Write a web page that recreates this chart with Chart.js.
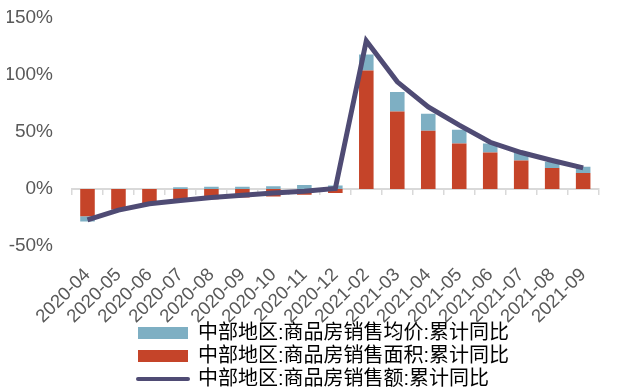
<!DOCTYPE html>
<html>
<head>
<meta charset="utf-8">
<script src="https://cdn.jsdelivr.net/npm/chart.js@4"></script>
<style>
  html, body { margin: 0; padding: 0; background: #fff; }
  #wrap { width: 617px; height: 392px; }
</style>
</head>
<body>
<div id="wrap"><canvas id="chart"></canvas></div>
<script>
const months = ['2020-04', '2020-05', '2020-06', '2020-07', '2020-08', '2020-09', '2020-10', '2020-11', '2020-12',
    '2021-02', '2021-03', '2021-04', '2021-05', '2021-06', '2021-07', '2021-08', '2021-09'];
// cumulative year-on-year change, %
const priceYoY = [-4.5, -1, 0, 1.5, 2, 2, 2.5, 3.5, 3, 14, 17, 15, 12, 8, 7, 5.5, 5.5];
const areaYoY = [-24, -18, -14, -11.5, -9, -7.5, -6.5, -5, -3.5, 104, 68, 51, 40, 32, 25, 18.5, 14];
const amountYoY = [-27, -18.5, -13, -10, -7.5, -5.5, -3.5, -2, 0.5, 130, 94, 72, 56, 41, 32, 25, 18.5];

const seriesNames = [
    '中部地区:商品房销售均价:累计同比',
    '中部地区:商品房销售面积:累计同比',
    '中部地区:商品房销售额:累计同比'
];
const blue = '#7eafc3';
const red = '#c54429';
const purple = '#4f4b74';
const axisGrey = '#d9d9d9';

Chart.defaults.font.family = '"Liberation Sans", "Noto Sans CJK SC", sans-serif';
Chart.defaults.color = '#595959';

// legend rows left aligned as one block, tucked up under the month labels
const legendNudge = {
    id: 'legendNudge',
    afterLayout(chart) {
        const lg = chart.legend;
        const h = lg.bottom - lg.top;
        lg.left = 135;
        lg.top = 320;
        lg.bottom = lg.top + h;
    }
};

const ctx = document.getElementById('chart').getContext('2d');
const myChart = new Chart(ctx, {
    type: 'bar',
    data: {
        labels: months,
        datasets: [
            {
                type: 'line',
                label: seriesNames[2],
                data: amountYoY,
                borderColor: purple,
                borderWidth: 5,
                pointRadius: 0,
                tension: 0,
                order: 0
            },
            {
                label: seriesNames[1],
                data: areaYoY,
                backgroundColor: red,
                stack: 's',
                order: 1
            },
            {
                label: seriesNames[0],
                data: priceYoY,
                backgroundColor: blue,
                stack: 's',
                order: 1
            }
        ]
    },
    options: {
        responsive: true,
        maintainAspectRatio: false,
        animation: false,
        layout: { padding: { top: 18, left: 7, right: 5, bottom: -17 } },
        datasets: {
            bar: { categoryPercentage: 1, barPercentage: 0.47 }
        },
        scales: {
            x: {
                stacked: true,
                grid: { display: false, drawTicks: false },
                border: { display: false },
                ticks: {
                    autoSkip: false,
                    minRotation: 45,
                    maxRotation: 45,
                    padding: 18,
                    font: { size: 18.5 }
                },
                // rotated labels fit without the extra room chart.js reserves
                afterFit(scale) {
                    scale.paddingLeft = 0;
                    scale.height = 84;
                }
            },
            // zero line with small marks between categories
            xZero: {
                type: 'category',
                position: { y: 0 },
                offset: true,
                grid: {
                    offset: true,
                    drawOnChartArea: false,
                    tickLength: 5,
                    color: axisGrey,
                    lineWidth: 1.5
                },
                border: { color: axisGrey, width: 2 },
                ticks: { display: false }
            },
            y: {
                stacked: true,
                min: -50,
                max: 150,
                grid: { display: false, drawTicks: false },
                border: { display: false },
                ticks: {
                    stepSize: 50,
                    padding: 19,
                    font: { size: 19 },
                    callback: v => v + '%'
                },
                afterFit(scale) {
                    scale.width = 65;
                    scale.paddingTop = 0;
                    scale.paddingBottom = 0;
                }
            }
        },
        plugins: {
            tooltip: { enabled: false },
            legend: {
                position: 'bottom',
                align: 'start',
                labels: {
                    usePointStyle: true,
                    pointStyleWidth: 50,
                    boxHeight: 12,
                    padding: 3,
                    font: { size: 20 },
                    generateLabels: () => [
                        { text: seriesNames[0], fillStyle: blue, strokeStyle: blue, lineWidth: 0, pointStyle: 'rect', datasetIndex: 2 },
                        { text: seriesNames[1], fillStyle: red, strokeStyle: red, lineWidth: 0, pointStyle: 'rect', datasetIndex: 1 },
                        { text: seriesNames[2], fillStyle: purple, strokeStyle: purple, lineWidth: 4, lineCap: 'round', pointStyle: 'line', datasetIndex: 0 }
                    ]
                }
            }
        }
    },
    plugins: [legendNudge]
});
</script>
</body>
</html>
